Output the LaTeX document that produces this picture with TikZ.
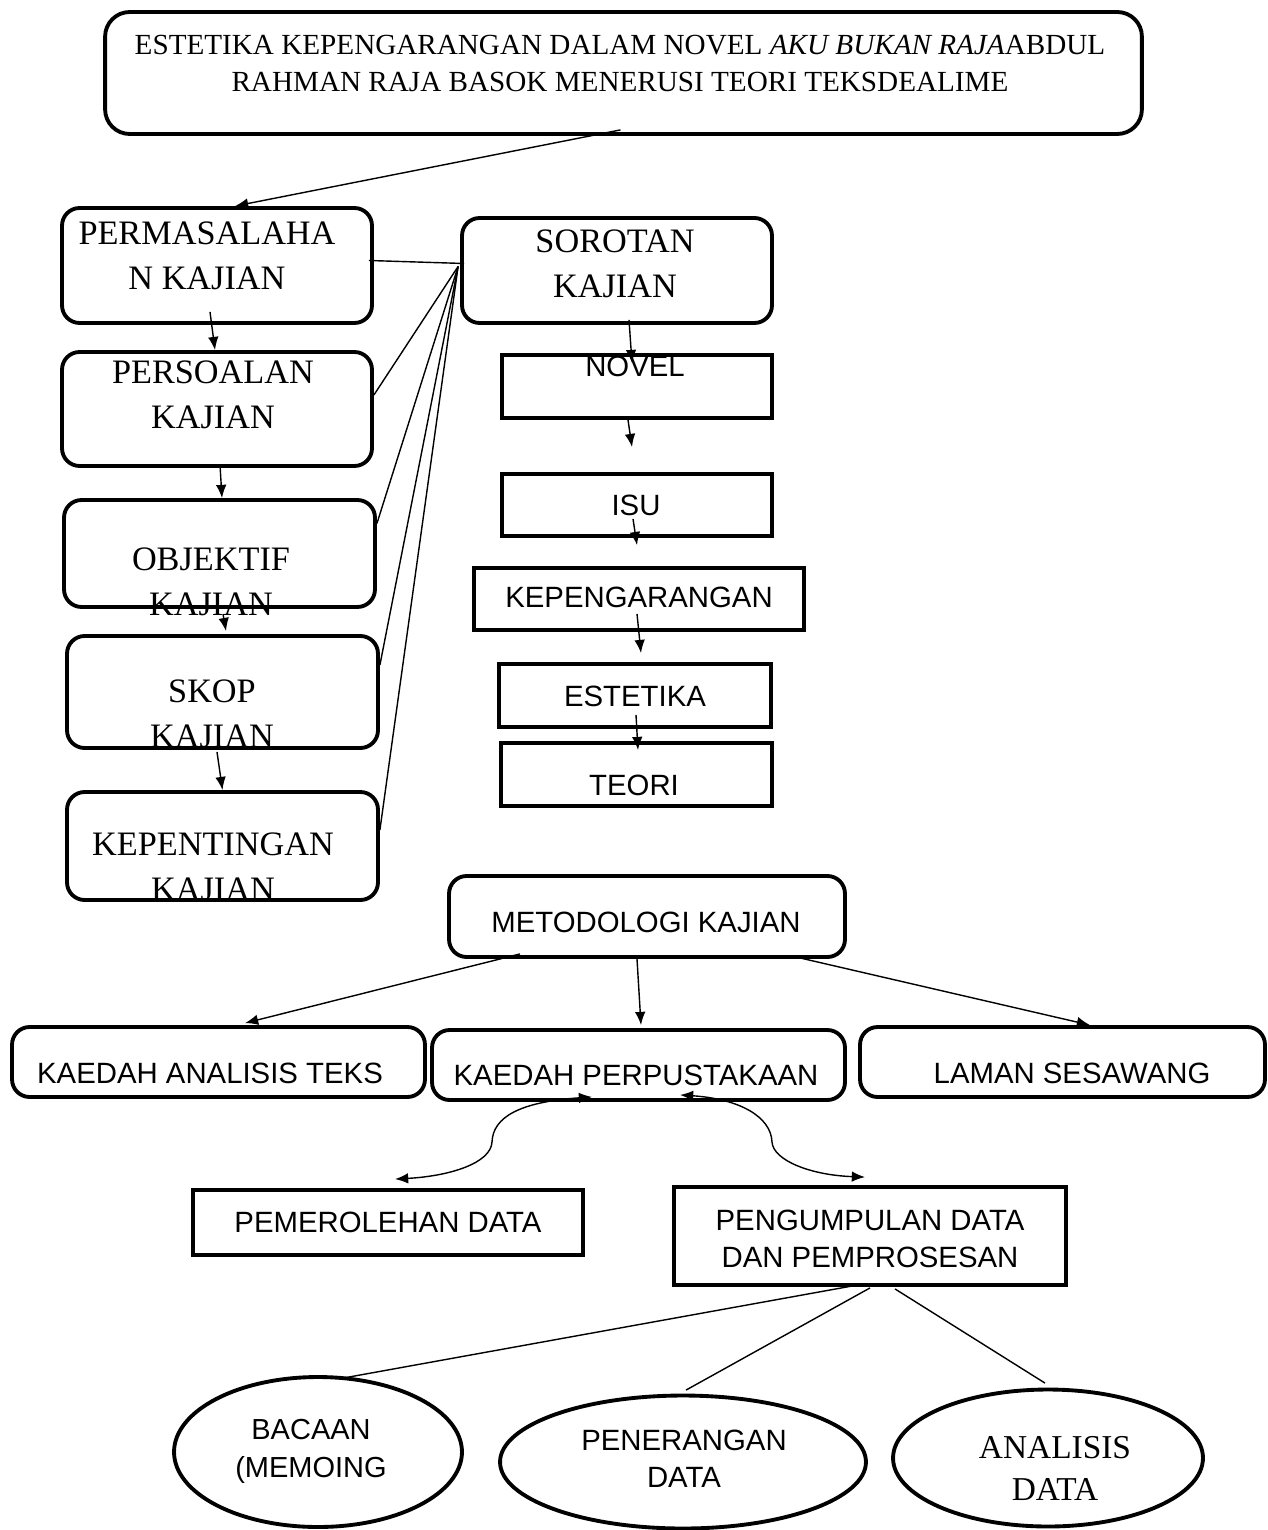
\documentclass[tikz,border=0pt]{standalone}
\usepackage{fontspec}
\setmainfont{Liberation Serif}
\newfontfamily\arialfont{Liberation Sans}
\usetikzlibrary{shapes.geometric,calc,arrows.meta}

\tikzset{
  rbox/.style={draw, line width=2.2pt, rounded corners=10pt, inner sep=0pt},
  sbox/.style={draw, line width=2.2pt, inner sep=0pt},
  obox/.style={draw, line width=2.2pt, ellipse, inner sep=0pt},
  sertxt/.style={align=center, inner sep=0pt, font=\fontsize{19.5}{25.5}\selectfont},
  sanstxt/.style={align=center, inner sep=0pt, font=\arialfont\fontsize{16.7}{21}\selectfont},
  link/.style={line width=0.8pt},
  panah/.style={-{Latex[length=7.5pt,width=6pt]}},
  panahdua/.style={{Latex[length=7.5pt,width=6pt]}-{Latex[length=7.5pt,width=6pt]}},
}

\begin{document}
\begin{tikzpicture}[x=0.02cm, y=-0.02cm]
\useasboundingbox (0,0) rectangle (1267,1530);

% judul
\node[rbox, rounded corners=14pt, minimum width=20.74cm, minimum height=2.44cm] (judul) at (623.5,73) {};
\node[align=center, inner sep=0pt, font=\fontsize{16.6}{21}\selectfont] (judulT) at (620,63.5)
  {ESTETIKA KEPENGARANGAN DALAM NOVEL \textit{AKU BUKAN RAJA}ABDUL\\RAHMAN RAJA BASOK MENERUSI TEORI TEKSDEALIME};

% lajur kiri
\node[rbox, minimum width=6.2cm, minimum height=2.3cm] (perm) at (217,265.5) {};
\node[rbox, minimum width=6.2cm, minimum height=2.28cm] (pers) at (217,409) {};
\node[rbox, minimum width=6.22cm, minimum height=2.14cm] (objk) at (219.5,553.5) {};
\node[rbox, minimum width=6.22cm, minimum height=2.24cm] (skop) at (222.5,692) {};
\node[rbox, minimum width=6.22cm, minimum height=2.16cm] (kepent) at (222.5,846) {};
\node[sertxt] (permT) at (207,255.5) {PERMASALAHA\\N KAJIAN};
\node[sertxt] (persT) at (213,395) {PERSOALAN\\KAJIAN};
\node[sertxt] (objkT) at (211,581.5) {OBJEKTIF\\KAJIAN};
\node[sertxt] (skopT) at (212,713.5) {SKOP\\KAJIAN};
\node[sertxt] (kepentT) at (213,867) {KEPENTINGAN\\KAJIAN};

% sorotan
\node[rbox, minimum width=6.2cm, minimum height=2.1cm] (sorot) at (617,270.5) {};
\node[sertxt] (sorotT) at (615,264) {SOROTAN\\KAJIAN};
\node[sbox, minimum width=5.4cm, minimum height=1.26cm] (novel) at (637,386.5) {};
\node[sbox, minimum width=5.4cm, minimum height=1.24cm] (isu) at (637,505) {};
\node[sbox, minimum width=6.6cm, minimum height=1.24cm] (kepg) at (639,599) {};
\node[sbox, minimum width=5.44cm, minimum height=1.26cm] (este) at (635,695.5) {};
\node[sbox, minimum width=5.42cm, minimum height=1.26cm] (teori) at (636.5,774.5) {};
\node[sanstxt] (novelT) at (635,366) {NOVEL};
\node[sanstxt] (isuT) at (636,505) {ISU};
\node[sanstxt] (kepgT) at (639,597) {KEPENGARANGAN};
\node[sanstxt] (esteT) at (635,696) {ESTETIKA};
\node[sanstxt] (teoriT) at (634,785) {TEORI};

% metodologi
\node[rbox, minimum width=7.92cm, minimum height=1.62cm] (meto) at (647,916.5) {};
\node[sanstxt] (metoT) at (646,922) {METODOLOGI KAJIAN};
\node[rbox, minimum width=8.26cm, minimum height=1.4cm] (kat) at (218.5,1062) {};
\node[rbox, minimum width=8.26cm, minimum height=1.4cm] (kpu) at (638.5,1065) {};
\node[rbox, minimum width=8.1cm, minimum height=1.4cm] (laman) at (1062.5,1062) {};
\node[sanstxt] (katT) at (210,1073) {KAEDAH ANALISIS TEKS};
\node[sanstxt] (kpuT) at (636,1075) {KAEDAH PERPUSTAKAAN};
\node[sanstxt] (lamanT) at (1072,1073) {LAMAN SESAWANG};
\node[sbox, minimum width=7.8cm, minimum height=1.3cm] (pemer) at (388,1222.5) {};
\node[sbox, minimum width=7.84cm, minimum height=1.96cm] (pengu) at (870,1236) {};
\node[sanstxt] (pemerT) at (388,1222) {PEMEROLEHAN DATA};
\node[sanstxt] (penguT) at (870,1238.5) {PENGUMPULAN DATA\\DAN PEMPROSESAN};

% bujur
\node[obox, minimum width=5.76cm, minimum height=3cm] (bac) at (318,1452) {};
\node[obox, minimum width=7.32cm, minimum height=2.66cm] (pen) at (683,1462) {};
\node[obox, minimum width=6.2cm, minimum height=2.74cm] (ana) at (1048,1458) {};
\node[sanstxt, font=\arialfont\fontsize{16.5}{22}\selectfont] (bacT) at (311,1451.5) {BACAAN\\(MEMOING};
\node[sanstxt] (penT) at (684,1458.5) {PENERANGAN\\DATA};
\node[align=center, inner sep=0pt, font=\fontsize{19}{24}\selectfont] (anaT) at (1055,1468.5) {ANALISIS\\DATA};

% penyambung
\draw[link,panah] ($(judul.south)+(-3,-6)$) -- ($(perm.north)+(18,0)$);
\coordinate (fan) at ($(sorot.west)+(-2,-4)$);
\draw[link] ($(perm.east)+(-5,-5)$) -- ($(sorot.west)+(4,-7)$);
\draw[link] (fan) -- ($(pers.east)+(0,-14)$);
\draw[link] (fan) -- ($(objk.east)+(0,-30)$);
\draw[link] (fan) -- ($(skop.east)+(0,-27)$);
\draw[link] (fan) -- ($(kepent.east)+(0,-16)$);

\draw[link,panah] ($(perm.south)+(-7,-13)$) -- ($(pers.north)+(-2,0)$);
\draw[link,panah] ($(pers.south)+(3,-3)$) -- ($(objk.north)+(2.5,0)$);
\draw[link,panah] ($(objk.south)+(3.5,5)$) -- ($(skop.north)+(3.5,-3)$);
\draw[link,panah] ($(skop.south)+(-5.5,2)$) -- (kepent.north);

\draw[link,panah] ($(sorot.south)+(12,-5)$) -- ($(novel.north)+(-5,10)$);
\draw[link,panah] ($(novel.south)+(-9,0)$) -- ($(isu.north)+(-5,-25)$);
\draw[link,panah] ($(isu.south)+(-4,-19)$) -- ($(kepg.north)+(-2,-21)$);
\draw[link,panah] ($(kepg.south)+(-2,-18)$) -- ($(este.north)+(6,-9)$);
\draw[link,panah] ($(este.south)+(1,-14)$) -- ($(teori.north)+(1.5,9)$);

\draw[link,panah] ($(meto.south)+(-127,-5)$) -- ($(kat.north)+(26.5,-2)$);
\draw[link,panah] ($(meto.south)+(-10,0)$) -- ($(kpu.north)+(2.5,-3)$);
\draw[link,panah] ($(meto.south)+(153,-1)$) -- ($(laman.north)+(27.5,0)$);

\draw[link,panahdua] ($(kpu.south)+(-46.5,-5)$) .. controls ($(kpu.south)+(-118.5,0)$) and ($(kpu.south)+(-145.5,15)$) .. ($(kpu.south)+(-146.5,40)$)
  .. controls ($(pemer.north)+(103,-25)$) and ($(pemer.north)+(62,-12)$) .. ($(pemer.north)+(7,-9)$);
\draw[link,panahdua] ($(kpu.south)+(41.5,-7)$) .. controls ($(kpu.south)+(101.5,-3)$) and ($(kpu.south)+(132.5,15)$) .. ($(kpu.south)+(133.5,40)$)
  .. controls ($(pengu.north)+(-97,-25)$) and ($(pengu.north)+(-60,-10)$) .. ($(pengu.north)+(-5,-8)$);

\draw[link] ($(pengu.south)+(-12,-2)$) -- ($(bac.north)+(25,3)$);
\draw[link] ($(pengu.south)+(0,1)$) -- ($(pen.north)+(3,-3.5)$);
\draw[link] ($(pengu.south)+(25,2)$) -- ($(ana.north)+(-3,-4.5)$);
\end{tikzpicture}
\end{document}
